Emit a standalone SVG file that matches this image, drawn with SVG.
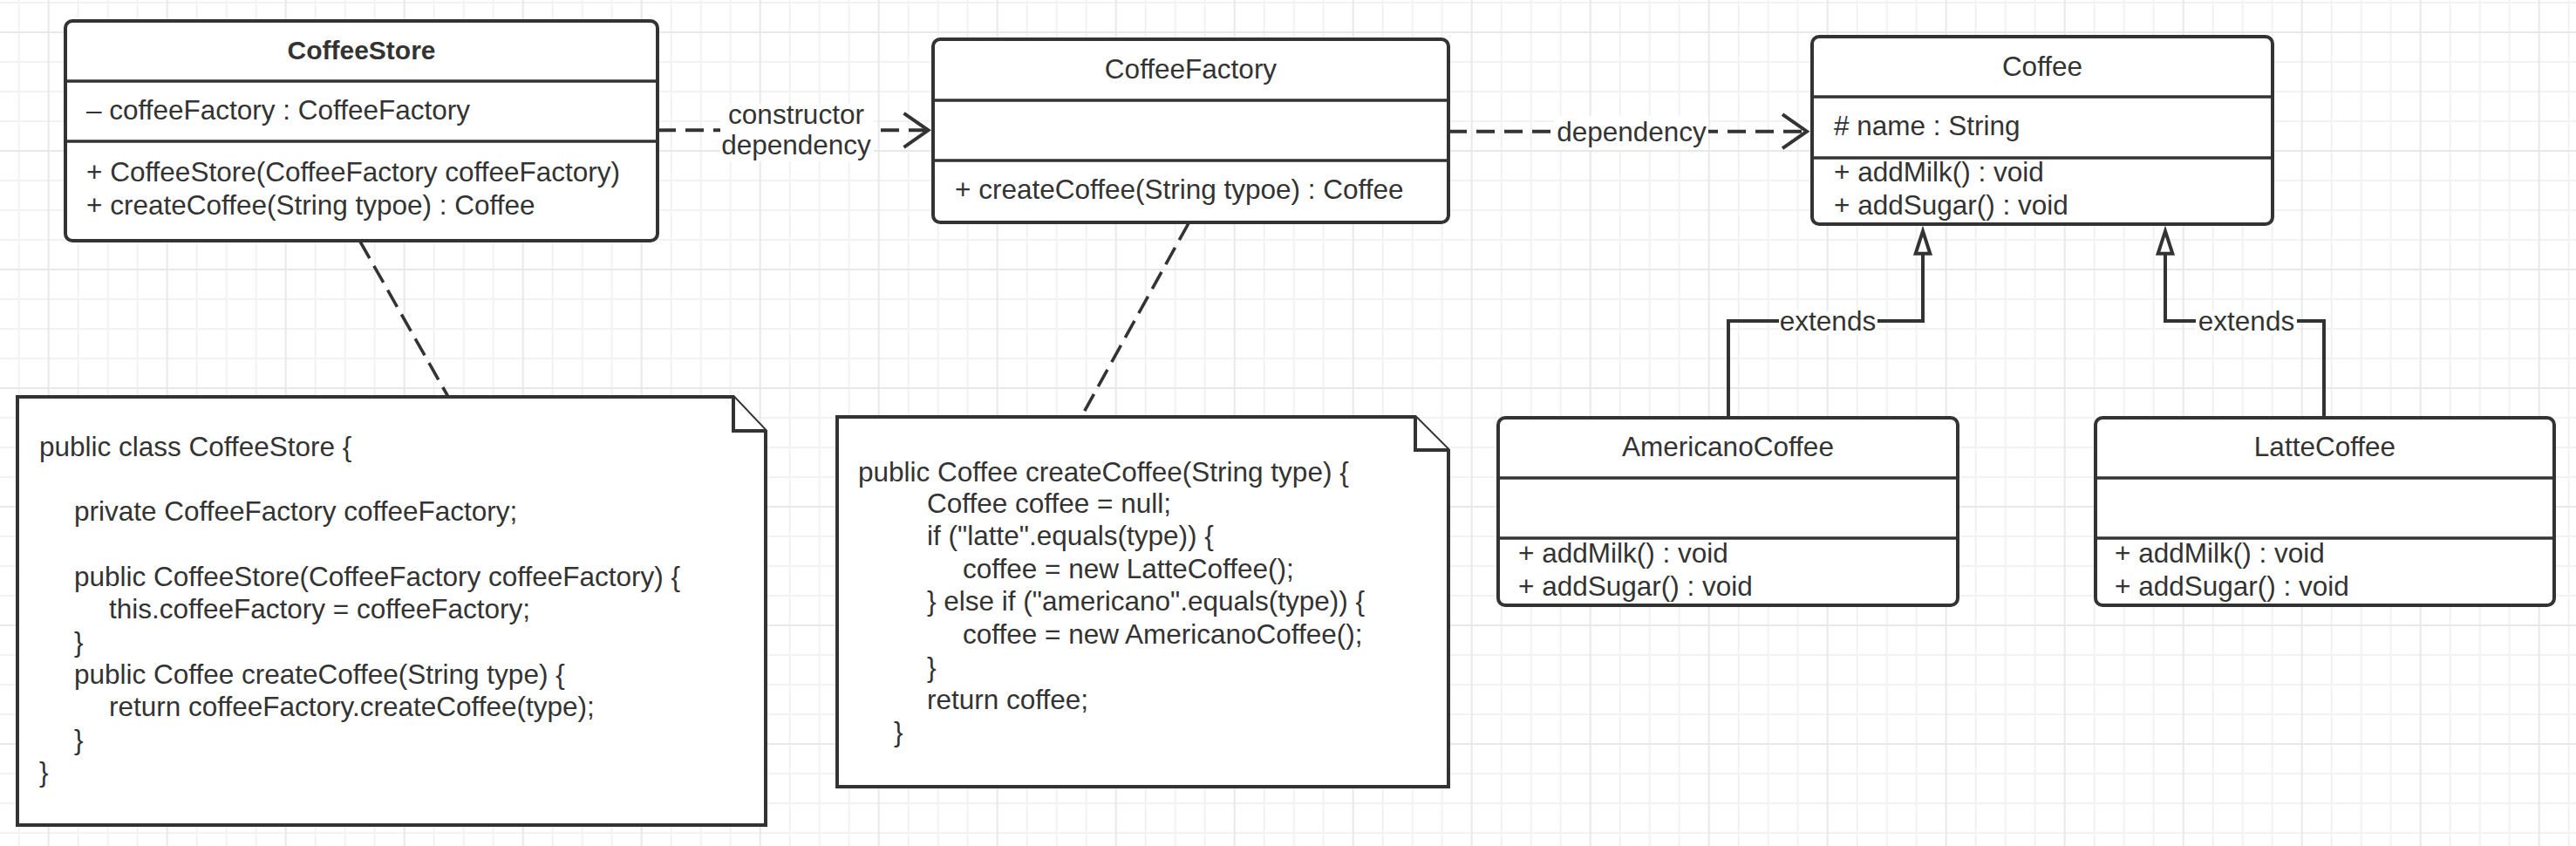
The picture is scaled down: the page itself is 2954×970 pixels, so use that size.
<svg xmlns="http://www.w3.org/2000/svg" width="2954" height="970" viewBox="0 0 2954 970">
<defs>
<style>
.box{fill:#fff;stroke:#333;stroke-width:4}
.dv{stroke:#333;stroke-width:3.5}
.t{font-family:"Liberation Sans",Arial,sans-serif;font-size:31.5px;fill:#333}
.c{text-anchor:middle}
.b{font-weight:bold;font-size:30px}
.dep{fill:none;stroke:#333;stroke-width:4;stroke-dasharray:21 11}
.ext{fill:none;stroke:#333;stroke-width:4}
.anc{fill:none;stroke:#333;stroke-width:3.6;stroke-dasharray:22 10}
.note{fill:#fff;stroke:#333;stroke-width:4;stroke-linejoin:miter}
.lb{fill:#fff}
</style>
<pattern id="grid" patternUnits="userSpaceOnUse" x="54.7" y="36" width="136" height="136">
<rect width="136" height="136" fill="#fff"/>
<g fill="#f2f2f2">
<rect x="34" y="0" width="2" height="136"/>
<rect x="68" y="0" width="2" height="136"/>
<rect x="102" y="0" width="2" height="136"/>
<rect x="0" y="34" width="136" height="2"/>
<rect x="0" y="68" width="136" height="2"/>
<rect x="0" y="102" width="136" height="2"/>
</g>
<g fill="#e8e8e8">
<rect x="0" y="0" width="2" height="136"/>
<rect x="0" y="0" width="136" height="2"/>
</g>
</pattern>
<marker id="open" markerUnits="userSpaceOnUse" viewBox="-34 -26 40 52" markerWidth="40" markerHeight="52" refX="0" refY="0" orient="auto" overflow="visible">
<path d="M-28,-19.5 L0,0 L-28,19.5" fill="none" stroke="#333" stroke-width="4" stroke-linejoin="miter"/>
</marker>
<marker id="tri" markerUnits="userSpaceOnUse" viewBox="-32 -14 40 28" markerWidth="40" markerHeight="28" refX="0" refY="0" orient="auto" overflow="visible">
<path d="M0,0 L-25.7,-8.3 L-25.7,8.3 Z" fill="#fff" stroke="#333" stroke-width="4" stroke-linejoin="miter"/>
</marker>
</defs>
<rect width="2954" height="970" fill="url(#grid)"/>

<g id="CoffeeStore">
<rect class="box" x="75" y="24" width="679" height="252" rx="8"/>
<line class="dv" x1="75" y1="93" x2="754" y2="93"/>
<line class="dv" x1="75" y1="162" x2="754" y2="162"/>
<text class="t c b" x="414.5" y="68">CoffeeStore</text>
<text class="t" x="99" y="136.7">– coffeeFactory : CoffeeFactory</text>
<text class="t" x="99" y="208.3">+ CoffeeStore(CoffeeFactory coffeeFactory)</text>
<text class="t" x="99" y="246">+ createCoffee(String typoe) : Coffee</text>
</g>

<g id="CoffeeFactory">
<rect class="box" x="1070" y="45" width="591" height="210" rx="8"/>
<line class="dv" x1="1070" y1="115" x2="1661" y2="115"/>
<line class="dv" x1="1070" y1="184" x2="1661" y2="184"/>
<text class="t c" x="1365.5" y="89.5">CoffeeFactory</text>
<text class="t" x="1095" y="228">+ createCoffee(String typoe) : Coffee</text>
</g>

<g id="Coffee">
<rect class="box" x="2078" y="42" width="528" height="215" rx="8"/>
<line class="dv" x1="2078" y1="111" x2="2606" y2="111"/>
<line class="dv" x1="2078" y1="181" x2="2606" y2="181"/>
<text class="t c" x="2342" y="86.5">Coffee</text>
<text class="t" x="2103" y="155"># name : String</text>
<text class="t" x="2103" y="208.3">+ addMilk() : void</text>
<text class="t" x="2103" y="246">+ addSugar() : void</text>
</g>

<g id="AmericanoCoffee">
<rect class="box" x="1718" y="479" width="527" height="215" rx="8"/>
<line class="dv" x1="1718" y1="548" x2="2245" y2="548"/>
<line class="dv" x1="1718" y1="617" x2="2245" y2="617"/>
<text class="t c" x="1981.5" y="523.3">AmericanoCoffee</text>
<text class="t" x="1741" y="645">+ addMilk() : void</text>
<text class="t" x="1741" y="683">+ addSugar() : void</text>
</g>

<g id="LatteCoffee">
<rect class="box" x="2403" y="479" width="526" height="215" rx="8"/>
<line class="dv" x1="2403" y1="548" x2="2929" y2="548"/>
<line class="dv" x1="2403" y1="617" x2="2929" y2="617"/>
<text class="t c" x="2666" y="523.3">LatteCoffee</text>
<text class="t" x="2425" y="645">+ addMilk() : void</text>
<text class="t" x="2425" y="683">+ addSugar() : void</text>
</g>

<g id="NoteCoffeeStore">
<path class="note" d="M20,455 H841 L878,494 V946 H20 Z"/>
<path class="note" d="M841,455 V494 H878" fill="none"/>
<text class="t" x="45" y="522.8">public class CoffeeStore {</text>
<text class="t" x="85" y="597.4">private CoffeeFactory coffeeFactory;</text>
<text class="t" x="85" y="672">public CoffeeStore(CoffeeFactory coffeeFactory) {</text>
<text class="t" x="125" y="709.3">this.coffeeFactory = coffeeFactory;</text>
<text class="t" x="85" y="746.6">}</text>
<text class="t" x="85" y="784">public Coffee createCoffee(String type) {</text>
<text class="t" x="125" y="821.2">return coffeeFactory.createCoffee(type);</text>
<text class="t" x="85" y="858.5">}</text>
<text class="t" x="45" y="895.8">}</text>
</g>

<g id="NoteCoffeeFactory">
<path class="note" d="M960,478 H1623 L1661,516 V902 H960 Z"/>
<path class="note" d="M1623,478 V516 H1661" fill="none"/>
<text class="t" x="984" y="551.7">public Coffee createCoffee(String type) {</text>
<text class="t" x="1063" y="588.3">Coffee coffee = null;</text>
<text class="t" x="1063" y="625">if ("latte".equals(type)) {</text>
<text class="t" x="1104" y="662.7">coffee = new LatteCoffee();</text>
<text class="t" x="1063" y="700">} else if ("americano".equals(type)) {</text>
<text class="t" x="1104" y="738.3">coffee = new AmericanoCoffee();</text>
<text class="t" x="1063" y="775.6">}</text>
<text class="t" x="1063" y="812.8">return coffee;</text>
<text class="t" x="1025" y="850">}</text>
</g>

<g id="connectors">
<path class="dep" d="M754,149.3 H1064.5" marker-end="url(#open)"/>
<rect class="lb" x="826" y="119" width="176" height="66"/>
<text class="t c" x="913" y="141.7">constructor</text>
<text class="t c" x="913" y="176.5">dependency</text>

<path class="dep" d="M1661,150.7 H2072" marker-end="url(#open)"/>
<rect class="lb" x="1783" y="133" width="176" height="39"/>
<text class="t c" x="1871" y="161.7">dependency</text>

<path class="ext" d="M1982,479 V368 H2205 V265" marker-end="url(#tri)"/>
<rect class="lb" x="2040" y="357" width="113" height="27"/>
<text class="t c" x="2096" y="379">extends</text>

<path class="ext" d="M2665,479 V368 H2483 V265" marker-end="url(#tri)"/>
<rect class="lb" x="2518" y="357" width="116" height="27"/>
<text class="t c" x="2576" y="379">extends</text>

<path class="anc" d="M413,277 L514,455"/>
<path class="anc" d="M1363,256 L1240,478"/>
</g>
</svg>
